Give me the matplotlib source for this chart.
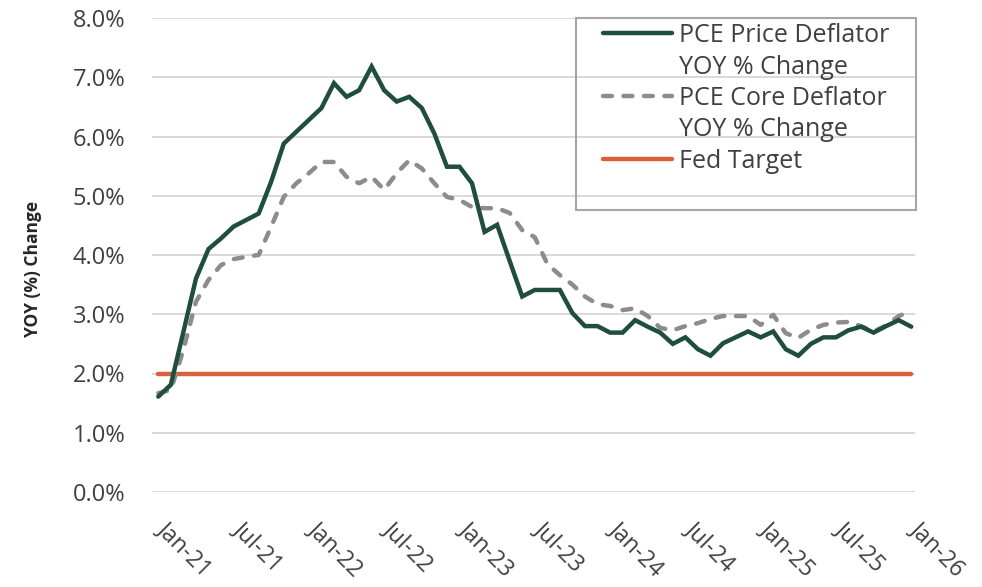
import matplotlib.pyplot as plt
import matplotlib.transforms as mtransforms
import numpy as np
from matplotlib.lines import Line2D
from matplotlib.patches import Rectangle

plt.rcParams['font.family'] = ['Open Sans', 'DejaVu Sans']

# <---------------- data (monthly, Jan-21 .. Jan-26) ---------------->
tick_labels = ["Jan-21", "Jul-21", "Jan-22", "Jul-22", "Jan-23", "Jul-23",
               "Jan-24", "Jul-24", "Jan-25", "Jul-25", "Jan-26"]
pce_price = [1.61, 1.81, 2.70, 3.60, 4.10, 4.28, 4.48, 4.59, 4.70, 5.24,
             5.88, 6.08, 6.28, 6.48, 6.90, 6.67, 6.78, 7.18, 6.78, 6.59,
             6.67, 6.48, 6.05, 5.49, 5.49, 5.21, 4.39, 4.51, 3.90, 3.30,
             3.41, 3.41, 3.41, 3.02, 2.80, 2.80, 2.69, 2.69, 2.90, 2.79,
             2.69, 2.50, 2.61, 2.41, 2.30, 2.51, 2.61, 2.71, 2.61, 2.71,
             2.41, 2.30, 2.50, 2.61, 2.61, 2.73, 2.79, 2.69, 2.80, 2.90,
             2.79]
pce_core = [1.67, 1.72, 2.40, 3.21, 3.58, 3.83, 3.93, 3.97, 4.00, 4.48,
            4.98, 5.21, 5.38, 5.57, 5.57, 5.32, 5.21, 5.32, 5.10, 5.38,
            5.60, 5.46, 5.21, 4.98, 4.93, 4.81, 4.79, 4.79, 4.71, 4.42,
            4.30, 3.85, 3.66, 3.50, 3.30, 3.17, 3.14, 3.07, 3.10, 2.97,
            2.77, 2.73, 2.80, 2.85, 2.92, 2.97, 2.97, 2.97, 2.82, 2.99,
            2.68, 2.60, 2.74, 2.82, 2.86, 2.87, 2.80, 2.71, 2.81, 2.97,
            3.05]
fed_level = 2.0
fed_target = [fed_level] * len(pce_price)

months = np.arange(len(pce_price))
tick_pos = months[::6]

green = "#1F4E3A"
grey = "#8C8C8C"
orange = "#D9603B"
txt = "#404040"

fig = plt.figure(figsize=(9.82, 5.87), dpi=100)
ax = fig.add_axes([152/982, 1-492/587, 763/982, 474/587])

ax.plot(months, fed_target, color=orange, lw=3.2, solid_capstyle="round", zorder=3)
ax.plot(months, pce_core, color=grey, lw=3.2, dashes=(2.0, 2.6),
        dash_capstyle="round", solid_joinstyle="round", zorder=4)
ax.plot(months, pce_price, color=green, lw=3.2, solid_capstyle="round",
        solid_joinstyle="miter", zorder=5)

ax.set_xlim(-0.5, 60.3)
ax.set_ylim(0, 8)
ax.set_yticks(np.arange(0, 9))
ax.set_yticklabels(["%.1f%%" % v for v in range(9)])
ax.set_xticks(tick_pos)
ax.set_xticklabels(tick_labels, rotation=-45, ha="left", va="top",
                   rotation_mode="anchor")
ax.tick_params(axis="y", length=0, pad=19, labelsize=17, labelcolor=txt)
ax.tick_params(axis="x", length=0, pad=18, labelsize=16.5, labelcolor=txt)
shift = mtransforms.ScaledTranslation(12/100, 0, fig.dpi_scale_trans)
for lab in ax.get_xticklabels():
    lab.set_transform(lab.get_transform() + shift)
ax.yaxis.grid(True, color="#D9D9D9", lw=1.4)
ax.set_axisbelow(True)
for s in ax.spines.values():
    s.set_visible(False)

fig.text(33/982, 1-269/587, "YOY (%) Change", rotation=90, ha="center",
         va="center", fontsize=12.5, fontweight="bold", color="#262626")

# <---------------- legend ---------------->
ax.add_patch(Rectangle((424/763, (492-210)/474), 340/763, 192/474,
                       transform=ax.transAxes, fill=False, ec="#A6A6A6",
                       lw=1.5, clip_on=False, zorder=6))
handles = [Line2D([], [], color=green, lw=3.2, solid_capstyle="round"),
           Line2D([], [], color="none"),
           Line2D([], [], color=grey, lw=3.2, dashes=(2.0, 2.6), dash_capstyle="round"),
           Line2D([], [], color="none"),
           Line2D([], [], color=orange, lw=3.2, solid_capstyle="round")]
labels = ["PCE Price Deflator", "YOY % Change", "PCE Core Deflator",
          "YOY % Change", "Fed Target"]
leg = ax.legend(handles, labels, loc="upper left",
                bbox_to_anchor=((603-152)/763, (492-23)/474),
                frameon=False, fontsize=18, handlelength=2.75, handletextpad=0.28,
                labelspacing=0.26, borderpad=0, borderaxespad=0, labelcolor=txt)
leg.set_zorder(7)

plt.savefig("out.png", dpi=100)
